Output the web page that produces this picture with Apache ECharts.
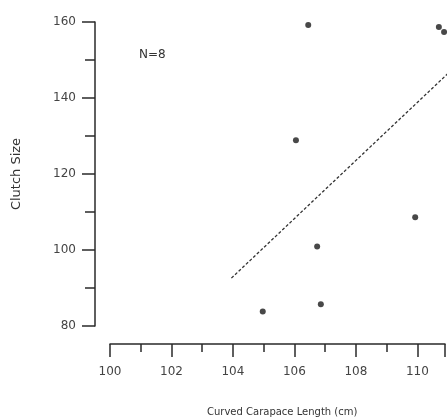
<!DOCTYPE html>
<html>
<head>
<meta charset="utf-8">
<script src="https://cdn.jsdelivr.net/npm/echarts@6/dist/echarts.min.js"></script>
<style>html,body{margin:0;padding:0;background:#fff}#c{width:448px;height:420px}</style>
</head>
<body>
<div id="c"></div>
<script>
// Data
var carapaceLength = [106.45, 110.7, 110.87, 106.05, 109.93, 106.74, 104.97, 106.86];
var clutchSize     = [159.2, 158.7, 157.4, 128.9, 108.6, 100.9, 83.8, 85.7];
var fitX = [103.95, 111.5];
var fitY = [92.6, 150.3];
var xTicks = [100, 102, 104, 106, 108, 110];
var yTicks = [80, 100, 120, 140, 160];
var annotation = 'N=8';
var xTitle = 'Curved Carapace Length (cm)';
var yTitle = 'Clutch Size';

var pts = carapaceLength.map(function (x, i) { return [x, clutchSize[i]]; });
var fit = fitX.map(function (x, i) { return [x, fitY[i]]; });
var ink = '#2a2a2a';
var font = 'DejaVu Sans';

var chart = echarts.init(document.getElementById('c'), null, {renderer: 'canvas'});
chart.setOption({
  animation: false,
  backgroundColor: '#fff',
  grid: {left: 110, top: 22, width: 338, height: 304, containLabel: false},
  xAxis: {
    type: 'value', min: 100, max: 110.9, interval: 2, offset: 18,
    splitLine: {show: false},
    axisLine: {show: true, lineStyle: {color: ink, width: 1.5}},
    axisTick: {show: true, inside: false, length: 13, lineStyle: {color: ink, width: 1.5}},
    minorTick: {show: true, splitNumber: 2, length: 8, lineStyle: {color: ink, width: 1.5}},
    axisLabel: {
      color: '#444', fontFamily: font, fontSize: 12, margin: 22,
      formatter: function (v) { return xTicks.indexOf(v) >= 0 ? String(v) : ''; }
    }
  },
  yAxis: {
    type: 'value', min: 80, max: 160, interval: 20, offset: 15,
    splitLine: {show: false},
    axisLine: {show: true, lineStyle: {color: ink, width: 1.5}},
    axisTick: {show: true, inside: false, length: 13, lineStyle: {color: ink, width: 1.5}},
    minorTick: {show: true, splitNumber: 2, length: 10, lineStyle: {color: ink, width: 1.5}},
    axisLabel: {
      color: '#444', fontFamily: font, fontSize: 12, margin: 19,
      formatter: function (v) { return yTicks.indexOf(v) >= 0 ? String(v) : ''; }
    },
    name: yTitle, nameLocation: 'middle', nameRotate: 90, nameGap: 72,
    nameTextStyle: {color: '#333', fontFamily: font, fontSize: 13}
  },
  graphic: [
    {type: 'text', left: 139, top: 49, style: {text: annotation, fill: '#333', font: '12px ' + font}},
    {type: 'text', left: 207, top: 407, style: {text: xTitle, fill: '#333', font: '10px ' + font}}
  ],
  series: [
    {
      type: 'line', data: fit, symbol: 'none', silent: true, clip: true,
      lineStyle: {color: '#333', width: 1.3, type: [3, 2]}
    },
    {
      type: 'scatter', data: pts, symbol: 'circle', symbolSize: 6,
      itemStyle: {color: '#1a1a1a'}
    }
  ]
});
</script>
</body>
</html>
